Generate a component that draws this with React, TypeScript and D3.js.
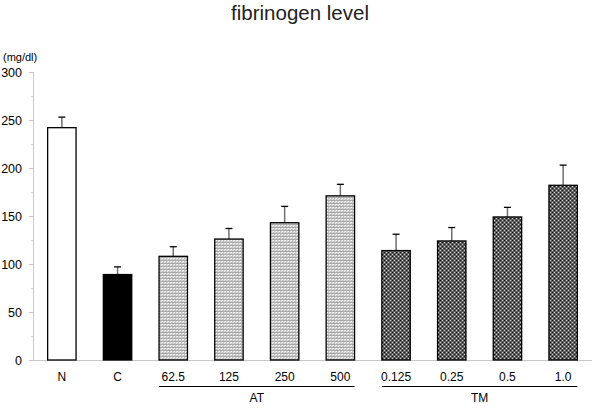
import React from "react";
import * as d3 from "d3";

const categories = ["N", "C", "62.5", "125", "250", "500", "0.125", "0.25", "0.5", "1.0"];
const groupOf = ["N", "C", "AT", "AT", "AT", "AT", "TM", "TM", "TM", "TM"];
const means = [242, 89, 108, 126, 143, 171, 114, 124, 149, 182];
const errTops = [253, 97, 118, 137, 160, 183, 131, 138, 159, 203];
const yTicks = [0, 50, 100, 150, 200, 250, 300];
const yMinorTicks = [25, 75, 125, 175, 225, 275];
const groups = [
  { name: "AT", first: "62.5", last: "500" },
  { name: "TM", first: "0.125", last: "1.0" },
];

const W = 600;
const H = 409;
const FONT = "Liberation Sans, Arial, sans-serif";

export default function App() {
  const x = d3
    .scaleBand<string>()
    .domain(categories)
    .range([34, 591])
    .paddingInner(0.49)
    .paddingOuter(0.245);
  const y = d3.scaleLinear().domain([0, 300]).range([360, 72]);
  const bw = x.bandwidth();

  const fillFor = (g: string) =>
    g === "N" ? "#ffffff" : g === "C" ? "#000000" : g === "AT" ? "url(#patAT)" : "url(#patTM)";

  return (
    <svg
      width={W}
      height={H}
      style={{ position: "absolute", left: 0, top: 0, background: "#fff" }}
      fontFamily={FONT}
    >
      <defs>
        <pattern id="patAT" width="3" height="3" patternUnits="userSpaceOnUse">
          <rect width="3" height="3" fill="#c4c4c4" />
          <rect x="0" y="0" width="1" height="1" fill="#ffffff" />
          <rect x="2" y="0" width="1" height="3" fill="#e0e0e0" />
          <rect x="0" y="2" width="3" height="1" fill="#a8a8a8" />
        </pattern>
        <pattern id="patTM" width="4" height="4" patternUnits="userSpaceOnUse">
          <rect width="4" height="4" fill="#606060" />
          <rect x="0" y="0" width="1" height="1" fill="#111" />
          <rect x="2" y="2" width="1" height="1" fill="#111" />
          <rect x="2" y="0" width="1" height="1" fill="#c8c8c8" />
          <rect x="0" y="2" width="1" height="1" fill="#c8c8c8" />
        </pattern>
      </defs>

      <text x={W / 2} y={20} textAnchor="middle" fontSize={20.5} fill="#222">
        fibrinogen level
      </text>

      <text x={3} y={61} fontSize={11} fill="#000">
        (mg/dl)
      </text>

      {/* y axis */}
      <line x1={33.5} x2={33.5} y1={y(300)} y2={y(0)} stroke="#c8c8c8" strokeWidth={1} />
      {yTicks.map((t) => (
        <g key={"t" + t}>
          <line x1={29} x2={33.5} y1={Math.round(y(t)) + 0.5} y2={Math.round(y(t)) + 0.5} stroke="#c8c8c8" />
          <text x={22} y={y(t) + 4.5} textAnchor="end" fontSize={12.5} fill="#000">
            {t}
          </text>
        </g>
      ))}
      {yMinorTicks.map((t) => (
        <line key={"m" + t} x1={31} x2={33.5} y1={Math.round(y(t)) + 0.5} y2={Math.round(y(t)) + 0.5} stroke="#d8d8d8" />
      ))}

      {/* x baseline */}
      <line x1={33} x2={592} y1={360.5} y2={360.5} stroke="#c8c8c8" />

      {/* bars */}
      {categories.map((c, i) => {
        const x0 = x(c)!;
        const cx = x0 + bw / 2;
        return (
          <g key={c}>
            <line x1={cx} x2={cx} y1={y(means[i])} y2={y(errTops[i])} stroke="#707070" strokeWidth={1.5} />
            <line x1={cx - 3.5} x2={cx + 3.5} y1={y(errTops[i])} y2={y(errTops[i])} stroke="#000" strokeWidth={1.3} />
            <rect
              x={x0}
              y={y(means[i])}
              width={bw}
              height={y(0) - y(means[i])}
              fill={fillFor(groupOf[i])}
              stroke="#000"
              strokeWidth={1.3}
            />
            <text x={cx} y={380.5} textAnchor="middle" fontSize={12} fill="#000">
              {c}
            </text>
          </g>
        );
      })}

      {/* group lines */}
      {groups.map((g) => {
        const a = x(g.first)!;
        const b = x(g.last)! + bw;
        return (
          <g key={g.name}>
            <line x1={a} x2={b} y1={386.5} y2={386.5} stroke="#000" strokeWidth={1} />
            <text x={(a + b) / 2} y={402} textAnchor="middle" fontSize={12} fill="#000">
              {g.name}
            </text>
          </g>
        );
      })}
    </svg>
  );
}
